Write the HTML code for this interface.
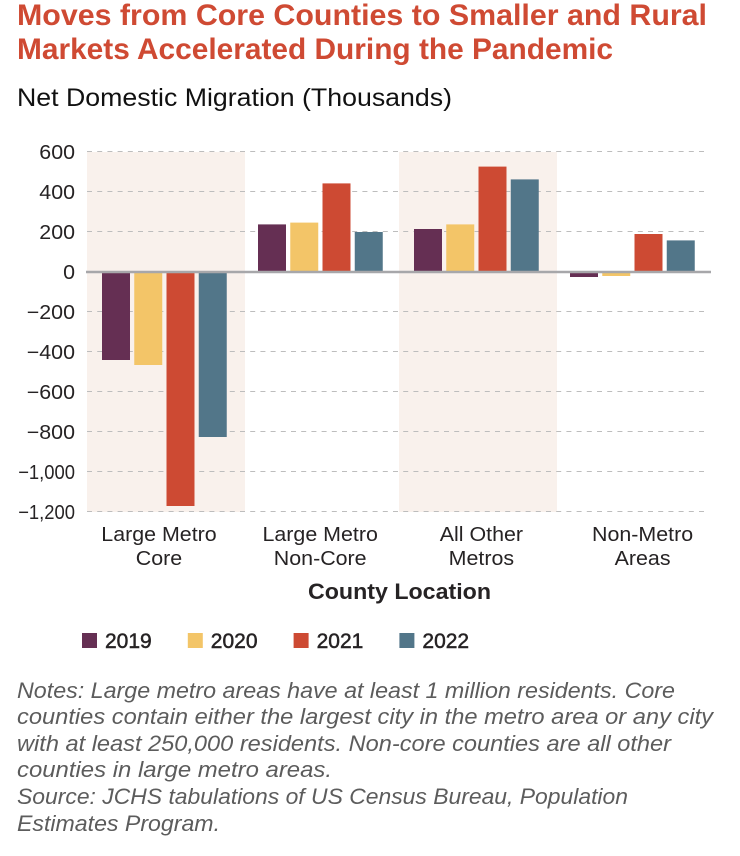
<!DOCTYPE html>
<html lang="en">
<head>
<meta charset="utf-8">
<title>Moves from Core Counties to Smaller and Rural Markets</title>
<style>
  html, body { margin: 0; padding: 0; background: #fff; }
  svg { display: block; }
  text { font-family: "Liberation Sans", sans-serif; }
  .title { font-size: 29.5px; font-weight: 700; fill: #cf4a33; }
  .subtitle { font-size: 25px; fill: #111; }
  .tick { font-size: 20px; fill: #262324; }
  .cat { font-size: 20px; fill: #262324; }
  .axis-title { font-size: 22px; font-weight: 700; fill: #262324; }
  .legend-text { font-size: 21px; fill: #262324; stroke: #262324; stroke-width: .5px; }
  .note { font-size: 22px; font-style: italic; fill: #5c5c5c; }
</style>
</head>
<body>
<svg id="chart" xmlns="http://www.w3.org/2000/svg" width="740" height="856" viewBox="0 0 740 856">
  <text class="title" x="17" y="25" textLength="690" lengthAdjust="spacingAndGlyphs">Moves from Core Counties to Smaller and Rural</text>
  <text class="title" x="17" y="59" textLength="596" lengthAdjust="spacingAndGlyphs">Markets Accelerated During the Pandemic</text>
  <text class="subtitle" x="17" y="106" textLength="435" lengthAdjust="spacingAndGlyphs">Net Domestic Migration (Thousands)</text>

  <g id="bands"></g>
  <g id="grid"></g>
  <g id="bars"></g>
  <line id="zero" x1="86" x2="711" stroke="#a7a7aa" stroke-width="2.5"></line>
  <g id="yticks"></g>
  <g id="xlabels"></g>

  <text class="axis-title" x="308" y="599" textLength="183" lengthAdjust="spacingAndGlyphs">County Location</text>
  <g id="legend"></g>

  <g>
    <text class="note" x="17" y="698" textLength="658" lengthAdjust="spacingAndGlyphs">Notes: Large metro areas have at least 1 million residents. Core</text>
    <text class="note" x="17" y="724" textLength="696" lengthAdjust="spacingAndGlyphs">counties contain either the largest city in the metro area or any city</text>
    <text class="note" x="17" y="751" textLength="654" lengthAdjust="spacingAndGlyphs">with at least 250,000 residents. Non-core counties are all other</text>
    <text class="note" x="17" y="777" textLength="315" lengthAdjust="spacingAndGlyphs">counties in large metro areas.</text>
    <text class="note" x="17" y="804" textLength="611" lengthAdjust="spacingAndGlyphs">Source: JCHS tabulations of US Census Bureau, Population</text>
    <text class="note" x="17" y="831" textLength="203" lengthAdjust="spacingAndGlyphs">Estimates Program.</text>
  </g>
</svg>
<script>
const categories = [["Large Metro", "Core"], ["Large Metro", "Non-Core"], ["All Other", "Metros"], ["Non-Metro", "Areas"]];
const years = ["2019", "2020", "2021", "2022"];
const colors = ["#652f53", "#f3c568", "#cd4a33", "#527689"];
const values2019 = [-440, 238, 215, -25];
const values2020 = [-465, 247, 238, -20];
const values2021 = [-1170, 443, 527, 190];
const values2022 = [-825, 200, 463, 158];
const tickValues = [600, 400, 200, 0, -200, -400, -600, -800, -1000, -1200];
const shadedCategories = [0, 2];

const NS = "http://www.w3.org/2000/svg";
const series = [values2019, values2020, values2021, values2022];

function y(v) { return 272 - v * 0.2; }
function bandX(g) { return 87 + 156 * g; }
function barX(g, s) { return 102 + 156 * g + 32.25 * s; }
function labelX(g) { return 159 + 161.2 * g; }
function legendX(s) { return 82 + 105.8 * s; }
function formatTick(v) {
  const s = Math.abs(v).toLocaleString("en-US");
  return v < 0 ? "\u2212" + s : s;
}
function make(tag, attrs, parent, txt) {
  const el = document.createElementNS(NS, tag);
  for (const k in attrs) el.setAttribute(k, attrs[k]);
  if (txt !== undefined) el.textContent = txt;
  parent.appendChild(el);
  return el;
}
function stretch(el, k) {
  el.setAttribute("textLength", (el.getComputedTextLength() * k).toFixed(1));
  el.setAttribute("lengthAdjust", "spacingAndGlyphs");
}

document.getElementById("zero").setAttribute("y1", y(0));
document.getElementById("zero").setAttribute("y2", y(0));

shadedCategories.forEach(function (g) {
  const el = make("rect", { x: bandX(g), y: y(600), width: 158, height: y(-1200) - y(600), fill: "#f9f1ec" }, document.getElementById("bands"));
  
  
});

tickValues.forEach(function (v) {
  if (v !== 0) {
    const line = make("line", { x1: 87, x2: 705, y1: y(v) - 0.5, y2: y(v) - 0.5, stroke: "#bdbdbd", "stroke-width": 1, "stroke-dasharray": "5 5.2" }, document.getElementById("grid"));
    
    
  }
  const t = make("text", { class: "tick", x: 75, y: y(v) + 7, "text-anchor": "end" }, document.getElementById("yticks"), formatTick(v));
  
  
  stretch(t, Math.abs(v) >= 1000 ? 0.92 : 1.07);
});

series.forEach(function (vals, s) {
  vals.forEach(function (v, g) {
    const top = Math.min(y(v), y(0));
    const h = Math.abs(y(v) - y(0));
    const bar = make("rect", { x: barX(g, s), y: top, width: 28, height: h, fill: colors[s] }, document.getElementById("bars"));
    
    
  });
});

categories.forEach(function (lines, g) {
  lines.forEach(function (line, i) {
    const t = make("text", { class: "cat", x: labelX(g), y: 541 + 24 * i, "text-anchor": "middle" }, document.getElementById("xlabels"), line);
    
    
    stretch(t, 1.07);
  });
});

years.forEach(function (yr, s) {
  const sw = make("rect", { x: legendX(s), y: 633, width: 15, height: 15, fill: colors[s] }, document.getElementById("legend"));
  
  
  const t = make("text", { class: "legend-text", x: legendX(s) + 23, y: 648 }, document.getElementById("legend"), yr);
  
  
});
</script>
</body>
</html>
